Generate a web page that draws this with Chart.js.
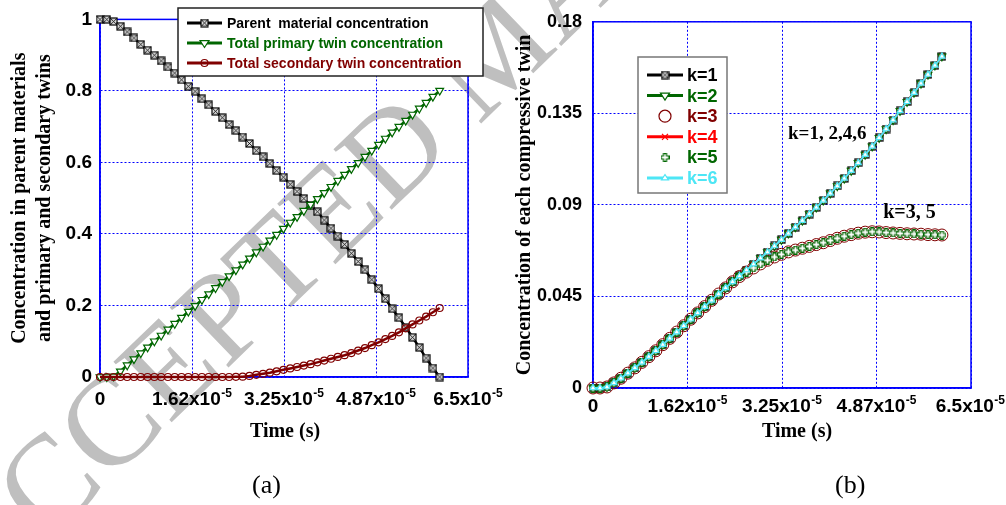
<!DOCTYPE html>
<html>
<head>
<meta charset="utf-8">
<script src="https://cdn.jsdelivr.net/npm/chart.js@4.4.1/dist/chart.umd.min.js"></script>
<style>
  body { margin: 0; background: #fff; width: 1006px; height: 505px; position: relative; overflow: hidden; }
  canvas { position: absolute; top: 0; }
  #wm { left: 0; }
  #chartA { left: 0; }
  #chartB { left: 500px; }
  .cap { position: absolute; top: 470px; font: 26px 'Liberation Serif', serif; color: #000; }
</style>
</head>
<body>
<canvas id="wm" width="1006" height="505"></canvas>
<canvas id="chartB" width="506" height="460"></canvas>
<canvas id="chartA" width="512" height="460"></canvas>
<div class="cap" style="left:252px">(a)</div>
<div class="cap" style="left:835px">(b)</div>
<script>
// time samples (s)
const timeSec = [0, 1.2e-6, 2.4e-6, 3.6e-6, 4.8e-6, 6.0e-6, 7.2e-6, 8.4e-6, 9.6e-6, 1.08e-5,
  1.20e-5, 1.32e-5, 1.44e-5, 1.56e-5, 1.68e-5, 1.80e-5, 1.92e-5, 2.04e-5, 2.16e-5, 2.28e-5,
  2.40e-5, 2.52e-5, 2.64e-5, 2.76e-5, 2.88e-5, 3.00e-5, 3.12e-5, 3.24e-5, 3.36e-5, 3.48e-5,
  3.60e-5, 3.72e-5, 3.84e-5, 3.96e-5, 4.08e-5, 4.20e-5, 4.32e-5, 4.44e-5, 4.56e-5, 4.68e-5,
  4.80e-5, 4.92e-5, 5.04e-5, 5.16e-5, 5.28e-5, 5.40e-5, 5.52e-5, 5.64e-5, 5.76e-5, 5.88e-5, 6.00e-5];

// (a) volume fractions
const parentConc = [1.000, 1.000, 0.994, 0.981, 0.965, 0.948, 0.930, 0.914, 0.900, 0.884,
  0.867, 0.850, 0.831, 0.813, 0.799, 0.778, 0.761, 0.743, 0.725, 0.706,
  0.689, 0.671, 0.653, 0.633, 0.616, 0.597, 0.577, 0.559, 0.539, 0.519,
  0.499, 0.480, 0.462, 0.439, 0.416, 0.394, 0.371, 0.346, 0.323, 0.300,
  0.272, 0.247, 0.219, 0.191, 0.166, 0.139, 0.111, 0.083, 0.053, 0.025, 0.000];
const primaryConc = [0, 0, 0.002, 0.016, 0.033, 0.050, 0.067, 0.083, 0.100, 0.116,
  0.133, 0.149, 0.166, 0.183, 0.199, 0.216, 0.232, 0.249, 0.266, 0.282,
  0.299, 0.315, 0.332, 0.349, 0.365, 0.382, 0.398, 0.415, 0.432, 0.448,
  0.465, 0.482, 0.498, 0.515, 0.532, 0.549, 0.566, 0.582, 0.599, 0.616,
  0.633, 0.650, 0.667, 0.684, 0.700, 0.717, 0.734, 0.751, 0.767, 0.784, 0.801];
const secondaryConc = [0, 0, 0, 0, 0, 0, 0, 0, 0, 0,
  0, 0, 0, 0, 0, 0, 0, 0, 0, 0,
  0.0005, 0.001, 0.003, 0.006, 0.009, 0.012, 0.016, 0.020, 0.024, 0.028,
  0.032, 0.036, 0.041, 0.046, 0.051, 0.056, 0.061, 0.067, 0.074, 0.081,
  0.089, 0.097, 0.106, 0.115, 0.125, 0.136, 0.147, 0.158, 0.169, 0.181, 0.193];

// (b) each compressive twin: k=1,2,4,6 and k=3,5 follow two curves
const twinUpper = [0, 0, 0.0005, 0.0025, 0.0048, 0.0073, 0.0099, 0.0126, 0.0154, 0.0183,
  0.0213, 0.0244, 0.0275, 0.0306, 0.0338, 0.0369, 0.0400, 0.0431, 0.0462, 0.0492,
  0.0522, 0.0551, 0.0580, 0.0609, 0.0638, 0.0668, 0.0698, 0.0729, 0.0760, 0.0791,
  0.0823, 0.0855, 0.0888, 0.0922, 0.0957, 0.0993, 0.1030, 0.1068, 0.1107, 0.1147,
  0.1188, 0.1230, 0.1273, 0.1317, 0.1362, 0.1407, 0.1452, 0.1497, 0.1541, 0.1586, 0.1630];
const twinLower = [0, 0, 0.0005, 0.0025, 0.0048, 0.0073, 0.0099, 0.0126, 0.0154, 0.0183,
  0.0213, 0.0244, 0.0275, 0.0306, 0.0338, 0.0369, 0.0400, 0.0431, 0.0462, 0.0492,
  0.0522, 0.0548, 0.0570, 0.0590, 0.0610, 0.0628, 0.0644, 0.0657, 0.0669, 0.0678,
  0.0687, 0.0696, 0.0705, 0.0714, 0.0725, 0.0736, 0.0746, 0.0754, 0.0761, 0.0766,
  0.0768, 0.0767, 0.0764, 0.0762, 0.0760, 0.0758, 0.0757, 0.0756, 0.0754, 0.0753, 0.0752];

const xTickValues = [0, 1.625e-5, 3.25e-5, 4.875e-5, 6.5e-5];
const xTickText = ['0', '1.62', '3.25', '4.87', '6.5'];
const yTicksA = [0, 0.2, 0.4, 0.6, 0.8, 1];
const yTickTextA = ['0', '0.2', '0.4', '0.6', '0.8', '1'];
const yTicksB = [0, 0.045, 0.09, 0.135, 0.18];
const yTickTextB = ['0', '0.045', '0.09', '0.135', '0.18'];

const namesA = ['Parent  material concentration', 'Total primary twin concentration', 'Total secondary twin concentration'];
const namesB = ['k=1', 'k=2', 'k=3', 'k=4', 'k=5', 'k=6'];

const GREEN = '#006600', DRED = '#800000', RED = '#ff0000', CYAN = '#4de6f5', BLUE = '#0000ff';
const SANS = "'Liberation Sans', Arial, sans-serif";
const SERIF = "'Liberation Serif', 'Times New Roman', serif";

const pts = vals => timeSec.map((t, i) => ({x: t, y: vals[i]}));

function makeMarker(size, draw) {
  const c = document.createElement('canvas');
  c.width = c.height = size;
  draw(c.getContext('2d'));
  return c;
}
// square with a cross inside
const sqX = makeMarker(9, g => {
  g.fillStyle = '#d8d8d8'; g.fillRect(1, 1, 7, 7);
  g.strokeStyle = '#000'; g.lineWidth = 1.2; g.strokeRect(1, 1, 7, 7);
  g.lineWidth = 0.8; g.beginPath();
  g.moveTo(1, 1); g.lineTo(8, 8); g.moveTo(8, 1); g.lineTo(1, 8); g.stroke();
});
// hollow plus
const plusMk = makeMarker(9, g => {
  g.beginPath();
  [[3, .6], [6, .6], [6, 3], [8.4, 3], [8.4, 6], [6, 6], [6, 8.4], [3, 8.4], [3, 6], [.6, 6], [.6, 3], [3, 3]]
    .forEach((p, i) => i ? g.lineTo(p[0], p[1]) : g.moveTo(p[0], p[1]));
  g.closePath();
  g.fillStyle = '#fff'; g.fill();
  g.strokeStyle = GREEN; g.lineWidth = 1.2; g.stroke();
});

function drawMarker(ctx, kind, x, y, color, r) {
  ctx.save();
  ctx.strokeStyle = color; ctx.lineWidth = 1.2;
  if (kind === 'sqx') ctx.drawImage(sqX, x - 4.5, y - 4.5);
  else if (kind === 'plus') ctx.drawImage(plusMk, x - 4.5, y - 4.5);
  else if (kind === 'triDown' || kind === 'triUp') {
    const s = kind === 'triDown' ? 1 : -1;
    ctx.beginPath();
    ctx.moveTo(x - r, y - s * r * 0.55); ctx.lineTo(x + r, y - s * r * 0.55); ctx.lineTo(x, y + s * r);
    ctx.closePath(); ctx.fillStyle = '#fff'; ctx.fill(); ctx.stroke();
  } else if (kind === 'circle') {
    ctx.beginPath(); ctx.arc(x, y, r, 0, Math.PI * 2); ctx.stroke();
  } else if (kind === 'x') {
    ctx.beginPath();
    ctx.moveTo(x - r, y - r); ctx.lineTo(x + r, y + r); ctx.moveTo(x + r, y - r); ctx.lineTo(x - r, y + r);
    ctx.stroke();
  }
  ctx.restore();
}

// solid blue box round the plot area
const framePlugin = {
  id: 'frame',
  beforeDatasetsDraw(chart) {
    const a = chart.chartArea, ctx = chart.ctx;
    ctx.save();
    ctx.strokeStyle = BLUE; ctx.lineWidth = 1.5;
    ctx.strokeRect(a.left, a.top, a.right - a.left, a.bottom - a.top);
    ctx.restore();
  }
};

// x tick labels as mantissa x 10^-5, plus the axis title
const xLabelPlugin = {
  id: 'xLabels',
  afterDraw(chart, args, o) {
    const ctx = chart.ctx, sx = chart.scales.x;
    ctx.save();
    ctx.fillStyle = '#000';
    ctx.textBaseline = 'alphabetic';
    ctx.textAlign = 'left';
    sx.ticks.forEach((t, i) => {
      const px = sx.getPixelForValue(t.value);
      const main = xTickText[i] === '0' ? '0' : xTickText[i] + 'x10';
      const sup = xTickText[i] === '0' ? '' : '-5';
      ctx.font = 'bold 19px ' + SANS;
      const wm = ctx.measureText(main).width;
      ctx.font = 'bold 12px ' + SANS;
      const ws = sup ? ctx.measureText(sup).width + 0.5 : 0;
      const x0 = Math.min(px - (wm + ws) / 2, o.maxRight - wm - ws);
      ctx.font = 'bold 19px ' + SANS;
      ctx.fillText(main, x0, o.baseline);
      if (sup) {
        ctx.font = 'bold 12px ' + SANS;
        ctx.fillText(sup, x0 + wm + 0.5, o.baseline - 8);
      }
    });
    ctx.font = 'bold 20px ' + SERIF;
    ctx.textAlign = 'center'; ctx.textBaseline = 'middle';
    ctx.fillText('Time (s)', o.titleX, o.titleY);
    ctx.restore();
  }
};

const boxLegend = {
  id: 'boxLegend',
  afterDraw(chart, args, o) {
    const ctx = chart.ctx;
    ctx.save();
    ctx.fillStyle = '#fff';
    ctx.fillRect(o.x, o.y, o.w, o.h);
    ctx.strokeStyle = o.border; ctx.lineWidth = 1.5;
    ctx.strokeRect(o.x, o.y, o.w, o.h);
    ctx.font = o.font; ctx.textBaseline = 'middle'; ctx.textAlign = 'left';
    o.items.forEach((it, i) => {
      const y = o.rowY + i * o.rowGap;
      if (it.line) {
        ctx.strokeStyle = it.color; ctx.lineWidth = 3;
        ctx.beginPath(); ctx.moveTo(o.lineX0, y); ctx.lineTo(o.lineX1, y); ctx.stroke();
      }
      drawMarker(ctx, it.marker, (o.lineX0 + o.lineX1) / 2, y, it.color, it.r);
      ctx.fillStyle = it.color;
      ctx.fillText(it.label, o.textX, y + 1);
    });
    (o.notes || []).forEach(n => {
      ctx.font = n.font; ctx.fillStyle = '#000'; ctx.textBaseline = 'alphabetic';
      ctx.fillText(n.text, chart.scales.x.getPixelForValue(n.x), chart.scales.y.getPixelForValue(n.y));
    });
    ctx.restore();
  }
};

function axisY(ticks, text, title, fontSize, pad, width, titlePad) {
  return {
    min: ticks[0], max: ticks[ticks.length - 1],
    afterBuildTicks: s => { s.ticks = ticks.map(v => ({value: v})); },
    afterFit: s => { s.width = width; },
    grid: {color: BLUE, lineWidth: 1, drawTicks: false},
    border: {display: true, color: BLUE, width: 1.5, dash: [2, 2]},
    ticks: {padding: pad, color: '#000', font: {family: SANS, size: fontSize, weight: 'bold'},
      callback: (v, i) => text[i]},
    title: {display: true, text: title, color: '#000', padding: {top: titlePad, bottom: 0},
      font: {family: SERIF, size: 20, weight: 'bold', lineHeight: 1.25}}
  };
}
function axisX(height) {
  return {
    type: 'linear', min: 0, max: 6.5e-5,
    afterBuildTicks: s => { s.ticks = xTickValues.map(v => ({value: v})); },
    afterFit: s => { s.height = height; },
    grid: {color: BLUE, lineWidth: 1, drawTicks: false},
    border: {display: true, color: BLUE, width: 1.5, dash: [2, 2]},
    ticks: {display: false}
  };
}

Chart.register(framePlugin, xLabelPlugin, boxLegend);

new Chart(document.getElementById('chartA'), {
  type: 'line',
  data: {
    datasets: [
      {label: namesA[0], data: pts(parentConc), borderColor: '#000', borderWidth: 2.5, order: 3,
        pointStyle: sqX, pointRadius: 4.5},
      {label: namesA[1], data: pts(primaryConc), borderColor: GREEN, borderWidth: 2.5, order: 2,
        pointStyle: 'triangle', pointRotation: 180, pointRadius: 4.5,
        pointBackgroundColor: '#fff', pointBorderColor: GREEN, pointBorderWidth: 1.2},
      {label: namesA[2], data: pts(secondaryConc), borderColor: DRED, borderWidth: 2.5, order: 1,
        pointStyle: 'circle', pointRadius: 3.5,
        pointBackgroundColor: 'rgba(0,0,0,0)', pointBorderColor: DRED, pointBorderWidth: 1.2}
    ].map(d => Object.assign({fill: false, clip: false, tension: 0}, d))
  },
  options: {
    responsive: false, animation: false, devicePixelRatio: 1,
    layout: {autoPadding: false, padding: {left: 0, top: 16, right: 44, bottom: 0}},
    scales: {
      x: axisX(83),
      y: axisY(yTicksA, yTickTextA, ['Concentration in parent materials', 'and primary and secondary twins'], 19, 8, 100, 7.5)
    },
    plugins: {
      legend: {display: false}, tooltip: {enabled: false},
      xLabels: {baseline: 405, titleX: 285, titleY: 432, maxRight: 510},
      boxLegend: {
        x: 178, y: 8, w: 305, h: 68, border: '#222', font: 'bold 14px ' + SANS,
        rowY: 23, rowGap: 20, lineX0: 187, lineX1: 222, textX: 227,
        items: [
          {label: namesA[0], color: '#000', marker: 'sqx', line: true},
          {label: namesA[1], color: GREEN, marker: 'triDown', r: 4.5, line: true},
          {label: namesA[2], color: DRED, marker: 'circle', r: 3.5, line: true}
        ]
      }
    }
  }
});

new Chart(document.getElementById('chartB'), {
  type: 'line',
  data: {
    datasets: [
      {label: namesB[0], data: pts(twinUpper), borderColor: '#000', borderWidth: 2, order: 6,
        pointStyle: sqX, pointRadius: 4.5},
      {label: namesB[1], data: pts(twinUpper), borderColor: GREEN, borderWidth: 2, order: 5,
        pointStyle: 'triangle', pointRotation: 180, pointRadius: 4.5,
        pointBackgroundColor: '#fff', pointBorderColor: GREEN, pointBorderWidth: 1.2},
      {label: namesB[2], data: pts(twinLower), showLine: false, order: 4,
        pointStyle: 'circle', pointRadius: 6,
        pointBackgroundColor: 'rgba(0,0,0,0)', pointBorderColor: DRED, pointBorderWidth: 1},
      {label: namesB[3], data: pts(twinUpper), borderColor: RED, borderWidth: 2, order: 3,
        pointStyle: 'crossRot', pointRadius: 3, pointBorderColor: RED, pointBorderWidth: 1.2},
      {label: namesB[4], data: pts(twinLower), showLine: false, order: 2,
        pointStyle: plusMk, pointRadius: 4.5},
      {label: namesB[5], data: pts(twinUpper), borderColor: CYAN, borderWidth: 2, order: 1,
        pointStyle: 'triangle', pointRadius: 3.5,
        pointBackgroundColor: '#fff', pointBorderColor: CYAN, pointBorderWidth: 1.2}
    ].map(d => Object.assign({fill: false, clip: false, tension: 0}, d))
  },
  options: {
    responsive: false, animation: false, devicePixelRatio: 1,
    layout: {autoPadding: false, padding: {left: 0, top: 16, right: 35, bottom: 0}},
    scales: {
      x: axisX(72),
      y: axisY(yTicksB, yTickTextB, 'Concentration of each compressive twin', 18, 11, 93, 12.5)
    },
    plugins: {
      legend: {display: false}, tooltip: {enabled: false},
      xLabels: {baseline: 412, titleX: 297, titleY: 432, maxRight: 505},
      boxLegend: {
        x: 138, y: 57, w: 89, h: 136, border: '#777', font: 'bold 18px ' + SANS,
        rowY: 75, rowGap: 20.6, lineX0: 147, lineX1: 183, textX: 187,
        items: [
          {label: namesB[0], color: '#000', marker: 'sqx', line: true},
          {label: namesB[1], color: GREEN, marker: 'triDown', r: 4.5, line: true},
          {label: namesB[2], color: DRED, marker: 'circle', r: 6, line: false},
          {label: namesB[3], color: RED, marker: 'x', r: 3, line: true},
          {label: namesB[4], color: GREEN, marker: 'plus', line: false},
          {label: namesB[5], color: CYAN, marker: 'triUp', r: 3.5, line: true}
        ],
        notes: [
          {text: 'k=1, 2,4,6', x: 3.353e-5, y: 0.1224, font: 'bold 19px ' + SERIF},
          {text: 'k=3, 5', x: 4.99e-5, y: 0.0837, font: 'bold 20px ' + SERIF}
        ]
      }
    }
  }
});

// diagonal watermark behind both panels
(function () {
  const ctx = document.getElementById('wm').getContext('2d');
  ctx.font = '128px ' + SERIF;
  ctx.fillStyle = '#bfbfbf';
  const lead = ctx.measureText('ACCEPTE').width + ctx.measureText('D').width / 2;
  ctx.translate(393, 150);
  ctx.rotate(-44 * Math.PI / 180);
  ctx.fillText('ACCEPTED MANUSCRIPT', -lead, 42);
})();
</script>
</body>
</html>
